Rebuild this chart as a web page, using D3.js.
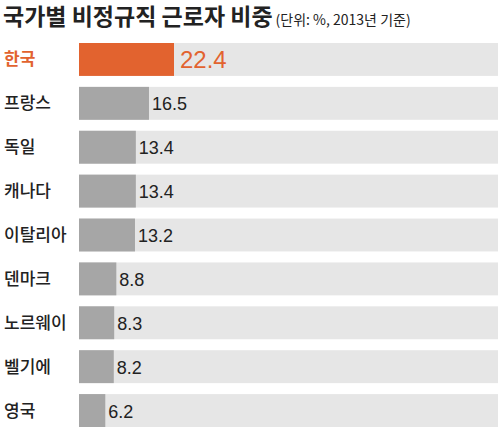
<!DOCTYPE html><html><head><meta charset="utf-8"><script src="https://cdn.jsdelivr.net/npm/d3@7"></script>
<style>body{margin:0;background:#fff}</style></head><body><svg width="500" height="427"></svg>
<script>
const categories=["한국","프랑스","독일","캐나다","이탈리아","덴마크","노르웨이","벨기에","영국"];
const values=[22.4,16.5,13.4,13.4,13.2,8.8,8.3,8.2,6.2];
const labels=["22.4","16.5","13.4","13.4","13.2","8.8","8.3","8.2","6.2"];
const svg=d3.select("svg");
const F="'Noto Sans CJK KR',sans-serif";
const x=d3.scaleLinear().domain([0,22.4]).range([79,174]);
const y=d3.scaleBand().domain(categories).range([43,427]).paddingInner(0.25).paddingOuter(0.0);
svg.append("text").attr("x",3).attr("y",25).attr("font-family",F).attr("font-weight",700).attr("font-size",23).attr("fill","#222")
 .text("국가별 비정규직 근로자 비중").append("tspan").attr("font-size",14).attr("font-weight",400).attr("dx",3).text("(단위: %, 2013년 기준)");
const g=svg.selectAll("g.r").data(categories).join("g");
g.append("rect").attr("x",79).attr("width",419).attr("y",d=>y(d)).attr("height",y.bandwidth()).attr("fill","#e6e6e6");
g.append("rect").attr("x",79).attr("width",(d,i)=>x(values[i])-79).attr("y",d=>y(d)).attr("height",y.bandwidth()).attr("fill",(d,i)=>i?"#a6a6a6":"#e2632f");
g.append("text").attr("x",4).attr("y",d=>y(d)+y.bandwidth()/2+6).attr("font-family",F).attr("font-size",17).attr("font-weight",(d,i)=>i?500:700)
 .attr("fill",(d,i)=>i?"#222":"#e2632f").text(d=>d);
g.append("text").attr("x",(d,i)=>x(values[i])+(i?3:6)).attr("y",(d,i)=>y(categories[i])+y.bandwidth()/2+(i?7:9)).attr("font-family","'Liberation Sans',sans-serif")
 .attr("font-size",(d,i)=>i?18:24).attr("fill",(d,i)=>i?"#222":"#e2632f").text((d,i)=>labels[i]);
</script></body></html>
